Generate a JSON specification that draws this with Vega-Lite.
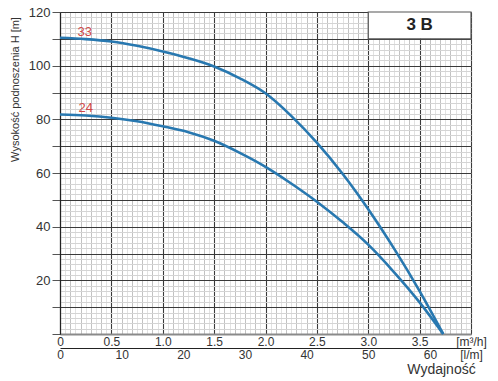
{
  "$schema": "https://vega.github.io/schema/vega-lite/v6.json",
  "width": 411,
  "height": 322,
  "autosize": {"type": "none"},
  "padding": {"left": 60, "top": 12, "right": 27, "bottom": 47},
  "config": {
    "view": {"stroke": null},
    "font": "Liberation Sans",
    "axis": {"labelFont": "Liberation Sans", "titleFont": "Liberation Sans"}
  },
  "datasets": {
    "curves": [
      {"model": "33", "q": 0, "h": 110.4},
      {"model": "33", "q": 0.25, "h": 109.9},
      {"model": "33", "q": 0.5, "h": 109.0},
      {"model": "33", "q": 0.75, "h": 107.4},
      {"model": "33", "q": 1.0, "h": 105.3},
      {"model": "33", "q": 1.25, "h": 102.8},
      {"model": "33", "q": 1.5, "h": 99.7},
      {"model": "33", "q": 1.75, "h": 95.3},
      {"model": "33", "q": 2.0, "h": 89.7},
      {"model": "33", "q": 2.25, "h": 81.3},
      {"model": "33", "q": 2.5, "h": 71.3},
      {"model": "33", "q": 2.75, "h": 59.7},
      {"model": "33", "q": 3.0, "h": 46.5},
      {"model": "33", "q": 3.25, "h": 31.9},
      {"model": "33", "q": 3.5, "h": 16.0},
      {"model": "33", "q": 3.73, "h": 0},
      {"model": "24", "q": 0, "h": 81.8},
      {"model": "24", "q": 0.25, "h": 81.4},
      {"model": "24", "q": 0.5, "h": 80.6},
      {"model": "24", "q": 0.75, "h": 79.3},
      {"model": "24", "q": 1.0, "h": 77.4},
      {"model": "24", "q": 1.25, "h": 75.2},
      {"model": "24", "q": 1.5, "h": 72.0},
      {"model": "24", "q": 1.75, "h": 67.5},
      {"model": "24", "q": 2.0, "h": 62.3},
      {"model": "24", "q": 2.25, "h": 56.1},
      {"model": "24", "q": 2.5, "h": 49.3},
      {"model": "24", "q": 2.75, "h": 41.7},
      {"model": "24", "q": 3.0, "h": 33.3},
      {"model": "24", "q": 3.25, "h": 23.1},
      {"model": "24", "q": 3.5, "h": 11.8},
      {"model": "24", "q": 3.73, "h": 0}
    ],
    "labels": [
      {"model": "33", "q": 0.24, "h": 112.5},
      {"model": "24", "q": 0.25, "h": 84.2}
    ],
    "box": [
      {"name": "3 B", "q1": 3.0, "q2": 4.0, "h1": 110, "h2": 120, "qm": 3.5, "hm": 115}
    ]
  },
  "layer": [
    {
      "data": {"name": "curves"},
      "mark": {"type": "point", "opacity": 0},
      "encoding": {
        "x": {"field": "q", "type": "quantitative", "scale": {"domain": [0, 4], "nice": false, "zero": true},
          "axis": {"orient": "bottom", "values": [0,0.05,0.1,0.15,0.2,0.25,0.3,0.35,0.4,0.45,0.5,0.55,0.6,0.65,0.7,0.75,0.8,0.85,0.9,0.95,1,1.05,1.1,1.15,1.2,1.25,1.3,1.35,1.4,1.45,1.5,1.55,1.6,1.65,1.7,1.75,1.8,1.85,1.9,1.95,2,2.05,2.1,2.15,2.2,2.25,2.3,2.35,2.4,2.45,2.5,2.55,2.6,2.65,2.7,2.75,2.8,2.85,2.9,2.95,3,3.05,3.1,3.15,3.2,3.25,3.3,3.35,3.4,3.45,3.5,3.55,3.6,3.65,3.7,3.75,3.8,3.85,3.9,3.95,4],
            "grid": true, "gridColor": "#e2e2e2", "gridWidth": 1, "labels": false, "ticks": false, "domain": false, "title": null}},
        "y": {"field": "h", "type": "quantitative", "scale": {"domain": [0, 120], "nice": false, "zero": true},
          "axis": {"orient": "left", "values": [0,2,4,6,8,10,12,14,16,18,20,22,24,26,28,30,32,34,36,38,40,42,44,46,48,50,52,54,56,58,60,62,64,66,68,70,72,74,76,78,80,82,84,86,88,90,92,94,96,98,100,102,104,106,108,110,112,114,116,118,120],
            "grid": true, "gridColor": "#d4d4d4", "gridWidth": 1, "labels": false, "ticks": false, "domain": false, "title": null}}
      }
    },
    {
      "data": {"name": "curves"},
      "mark": {"type": "point", "opacity": 0},
      "encoding": {
        "x": {"field": "q", "type": "quantitative", "scale": {"domain": [0, 4], "nice": false, "zero": true},
          "axis": {"orient": "top", "values": [0,0.1,0.2,0.3,0.4,0.5,0.6,0.7,0.8,0.9,1,1.1,1.2,1.3,1.4,1.5,1.6,1.7,1.8,1.9,2,2.1,2.2,2.3,2.4,2.5,2.6,2.7,2.8,2.9,3,3.1,3.2,3.3,3.4,3.5,3.6,3.7,3.8,3.9,4],
            "grid": true, "gridColor": "#c2c2c2", "gridWidth": 1, "labels": false, "ticks": false, "domain": false, "title": null}},
        "y": {"field": "h", "type": "quantitative", "scale": {"domain": [0, 120], "nice": false, "zero": true}, "axis": null}
      }
    },
    {
      "data": {"name": "curves"},
      "mark": {"type": "point", "opacity": 0},
      "encoding": {
        "x": {"field": "q", "type": "quantitative", "scale": {"domain": [0, 4], "nice": false, "zero": true},
          "axis": {"orient": "bottom", "values": [0,0.5,1,1.5,2,2.5,3,3.5,4],
            "labelExpr": "datum.value == 0 ? '0' : (datum.value == 4 ? '[m³/h]' : format(datum.value, '.1f'))",
            "grid": true, "gridColor": "#3a3a3a", "gridWidth": 1.1, "ticks": false,
            "domain": true, "domainColor": "#8a8a8a", "domainWidth": 2,
            "labelFontSize": 12, "labelColor": "#333333", "labelPadding": 2, "labelFlush": false, "labelOverlap": false, "labelBound": false,
            "title": null}},
        "y": {"field": "h", "type": "quantitative", "scale": {"domain": [0, 120], "nice": false, "zero": true},
          "axis": {"orient": "left", "values": [0,10,20,30,40,50,60,70,80,90,100,110,120],
            "labelExpr": "datum.value > 0 && datum.value % 20 == 0 ? datum.label : ''",
            "grid": true, "gridColor": "#3a3a3a", "gridWidth": 1.1,
            "ticks": true, "tickSize": 8, "tickColor": "#555555", "tickWidth": 1,
            "domain": true, "domainColor": "#222222", "domainWidth": 1.2,
            "labelFontSize": 13, "labelColor": "#333333", "labelPadding": 2, "labelFlush": false, "labelOverlap": false,
            "title": "Wysokość podnoszenia H [m]", "titleFontSize": 11, "titleFontWeight": "normal", "titleColor": "#333333",
            "titleAngle": 270, "titleX": -45, "titleY": 77, "titleAlign": "center", "titleBaseline": "middle"}}
      }
    },
    {
      "data": {"name": "curves"},
      "mark": {"type": "point", "opacity": 0},
      "encoding": {
        "x": {"field": "q", "type": "quantitative", "scale": {"domain": [0, 4], "nice": false, "zero": true},
          "axis": {"orient": "bottom", "offset": 14, "values": [0,0.6,1.2,1.8,2.4,3,3.6,4],
            "labelExpr": "datum.value == 4 ? '[l/m]' : format(datum.value / 0.06, 'd')",
            "grid": false, "ticks": false,
            "domain": true, "domainColor": "#222222", "domainWidth": 1,
            "labelFontSize": 12, "labelColor": "#333333", "labelPadding": 1, "labelFlush": false, "labelOverlap": false, "labelBound": false,
            "title": "Wydajność", "titleFontSize": 14, "titleFontWeight": "normal", "titleColor": "#333333",
            "titleX": 381, "titleY": 21, "titleAlign": "center", "titleBaseline": "middle", "titleAngle": 0}},
        "y": {"field": "h", "type": "quantitative", "scale": {"domain": [0, 120], "nice": false, "zero": true}, "axis": null}
      }
    },
    {
      "data": {"name": "box"},
      "mark": {"type": "rect", "fill": "#ffffff", "stroke": "#555555", "strokeWidth": 1.2},
      "encoding": {
        "x": {"field": "q1", "type": "quantitative", "scale": {"domain": [0, 4], "nice": false, "zero": true}, "axis": null},
        "x2": {"field": "q2"},
        "y": {"field": "h1", "type": "quantitative", "scale": {"domain": [0, 120], "nice": false, "zero": true}, "axis": null},
        "y2": {"field": "h2"}
      }
    },
    {
      "data": {"name": "box"},
      "mark": {"type": "text", "fontSize": 17, "fontWeight": "bold", "color": "#222222", "align": "center", "baseline": "middle"},
      "encoding": {
        "x": {"field": "qm", "type": "quantitative", "scale": {"domain": [0, 4], "nice": false, "zero": true}, "axis": null},
        "y": {"field": "hm", "type": "quantitative", "scale": {"domain": [0, 120], "nice": false, "zero": true}, "axis": null},
        "text": {"field": "name"}
      }
    },
    {
      "data": {"name": "curves"},
      "mark": {"type": "line", "interpolate": "monotone", "strokeWidth": 2.6, "color": "#2878b0", "clip": false},
      "encoding": {
        "x": {"field": "q", "type": "quantitative", "scale": {"domain": [0, 4], "nice": false, "zero": true}, "axis": null},
        "y": {"field": "h", "type": "quantitative", "scale": {"domain": [0, 120], "nice": false, "zero": true}, "axis": null},
        "detail": {"field": "model", "type": "nominal"}
      }
    },
    {
      "data": {"name": "labels"},
      "mark": {"type": "text", "fontSize": 13, "color": "#d04848", "align": "center", "baseline": "middle"},
      "encoding": {
        "x": {"field": "q", "type": "quantitative", "scale": {"domain": [0, 4], "nice": false, "zero": true}, "axis": null},
        "y": {"field": "h", "type": "quantitative", "scale": {"domain": [0, 120], "nice": false, "zero": true}, "axis": null},
        "text": {"field": "model"}
      }
    }
  ],
  "resolve": {"axis": {"x": "independent", "y": "independent"}}
}
